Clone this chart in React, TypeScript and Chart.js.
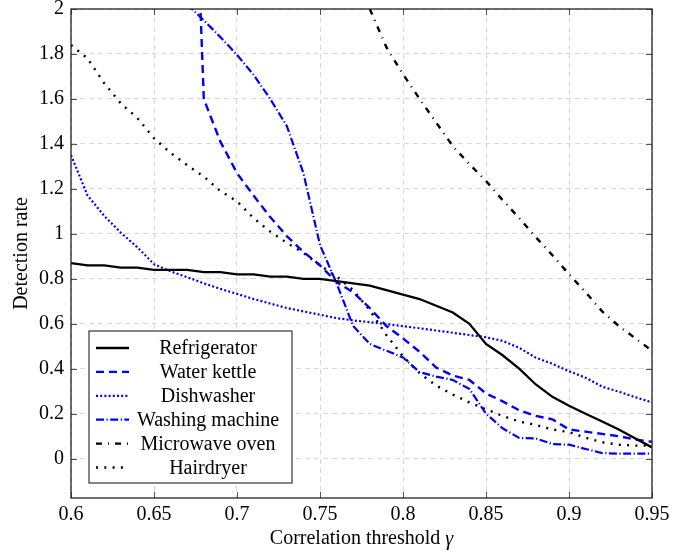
import React, { useEffect, useRef } from "react";
import { Chart, registerables } from "chart.js";

Chart.register(...registerables);

// ---------- data ----------
const thresholds = [
  0.6, 0.61, 0.62, 0.63, 0.64, 0.65, 0.66, 0.67, 0.68, 0.69, 0.7, 0.71, 0.72,
  0.73, 0.74, 0.75, 0.76, 0.77, 0.78, 0.79, 0.8, 0.81, 0.82, 0.83, 0.84, 0.85,
  0.86, 0.87, 0.88, 0.89, 0.9, 0.91, 0.92, 0.93, 0.94, 0.95,
];

const refrigerator = [
  0.87, 0.86, 0.86, 0.85, 0.85, 0.84, 0.84, 0.84, 0.83, 0.83, 0.82, 0.82, 0.81,
  0.81, 0.8, 0.8, 0.79, 0.78, 0.77, 0.75, 0.73, 0.71, 0.68, 0.65, 0.6, 0.51,
  0.46, 0.4, 0.33, 0.275, 0.235, 0.2, 0.165, 0.13, 0.09, 0.05,
];

const waterKettle = [
  null, null, null, null, null, null, null, 3.6, 1.6, 1.41, 1.27, 1.17, 1.075,
  0.99, 0.92, 0.86, 0.785, 0.74, 0.67, 0.59, 0.535, 0.475, 0.405, 0.37, 0.35,
  0.29, 0.255, 0.215, 0.19, 0.175, 0.13, 0.12, 0.11, 0.1, 0.085, 0.075,
];

const dishwasher = [
  1.35, 1.17, 1.08, 1.005, 0.94, 0.865, 0.833, 0.807, 0.78, 0.755, 0.733, 0.71,
  0.69, 0.67, 0.655, 0.64, 0.625, 0.615, 0.607, 0.598, 0.589, 0.58, 0.57, 0.56,
  0.55, 0.54, 0.524, 0.493, 0.449, 0.422, 0.389, 0.36, 0.32, 0.298, 0.273, 0.25,
];

const washingMachine = [
  null, null, null, null, null, null, null, 2.02, 1.95, 1.875, 1.796, 1.707,
  1.6, 1.48, 1.27, 0.95, 0.78, 0.59, 0.51, 0.48, 0.45, 0.385, 0.365, 0.35, 0.31,
  0.2, 0.135, 0.092, 0.09, 0.065, 0.062, 0.043, 0.025, 0.022, 0.022, 0.022,
];

const microwaveOven = [
  null, null, null, null, null, null, null, null, null, null, null, null, null,
  null, null, null, null, null, 2.0, 1.83, 1.71, 1.6, 1.495, 1.39, 1.31, 1.235,
  1.15, 1.07, 0.985, 0.905, 0.82, 0.74, 0.655, 0.59, 0.535, 0.48,
];

const hairdryer = [
  1.84, 1.78, 1.67, 1.58, 1.515, 1.425, 1.36, 1.305, 1.255, 1.19, 1.145, 1.07,
  1.01, 0.96, 0.915, 0.86, 0.81, 0.75, 0.66, 0.55, 0.455, 0.38, 0.325, 0.285,
  0.25, 0.22, 0.19, 0.165, 0.15, 0.13, 0.118, 0.093, 0.073, 0.062, 0.058, 0.058,
];

const xTickValues = [0.6, 0.65, 0.7, 0.75, 0.8, 0.85, 0.9, 0.95];
const yTickValues = [0, 0.2, 0.4, 0.6, 0.8, 1, 1.2, 1.4, 1.6, 1.8, 2];

const xLabel = "Correlation threshold ";
const xLabelSymbol = "γ";
const yLabel = "Detection rate";

// ---------- styles ----------
const FONT = "'Liberation Serif', 'DejaVu Serif', serif";
const FS = 20;
const BLUE = "#0000ff";
const BLACK = "#000000";

type SeriesDef = {
  label: string;
  values: (number | null)[];
  color: string;
  dash: number[];
  width: number;
  cap: CanvasLineCap;
};

const series: SeriesDef[] = [
  { label: "Refrigerator", values: refrigerator, color: BLACK, dash: [], width: 2.3, cap: "butt" },
  { label: "Water kettle", values: waterKettle, color: BLUE, dash: [8, 5], width: 2.4, cap: "butt" },
  { label: "Dishwasher", values: dishwasher, color: BLUE, dash: [2, 2.2], width: 2.2, cap: "butt" },
  { label: "Washing machine", values: washingMachine, color: BLUE, dash: [8, 2.5, 1.2, 2.5], width: 2.2, cap: "butt" },
  { label: "Microwave oven", values: microwaveOven, color: BLACK, dash: [6, 6, 1, 6], width: 2.4, cap: "butt" },
  { label: "Hairdryer", values: hairdryer, color: BLACK, dash: [2, 6.3], width: 2.4, cap: "butt" },
];

const framePlugin = {
  id: "pgfFrame",
  afterDatasetsDraw(chart: any) {
    const { ctx, chartArea: a, scales } = chart;
    ctx.save();
    ctx.strokeStyle = "#555";
    ctx.lineWidth = 1;
    const tl = 6;
    xTickValues.forEach((v) => {
      const px = Math.round(scales.x.getPixelForValue(v)) + 0.5;
      ctx.beginPath();
      ctx.moveTo(px, a.bottom);
      ctx.lineTo(px, a.bottom - tl);
      ctx.moveTo(px, a.top);
      ctx.lineTo(px, a.top + tl);
      ctx.stroke();
    });
    yTickValues.forEach((v) => {
      const py = Math.round(scales.y.getPixelForValue(v)) + 0.5;
      ctx.beginPath();
      ctx.moveTo(a.left, py);
      ctx.lineTo(a.left + tl, py);
      ctx.moveTo(a.right, py);
      ctx.lineTo(a.right - tl, py);
      ctx.stroke();
    });
    ctx.strokeStyle = "#222";
    ctx.lineWidth = 1.3;
    ctx.strokeRect(a.left, a.top, a.right - a.left, a.bottom - a.top);
    ctx.restore();
  },
  afterDraw(chart: any) {
    const { ctx, chartArea: a } = chart;
    ctx.save();
    const bx = a.left + 18;
    const by = a.top + 322;
    const bw = 203;
    const bh = 152;
    ctx.fillStyle = "#fff";
    ctx.fillRect(bx, by, bw, bh);
    ctx.strokeStyle = "#444";
    ctx.lineWidth = 1.3;
    ctx.strokeRect(bx, by, bw, bh);
    const rowH = 23.9;
    const firstY = by + 17;
    ctx.font = `${FS}px ${FONT}`;
    ctx.textAlign = "center";
    ctx.textBaseline = "middle";
    series.forEach((s, i) => {
      const y = firstY + i * rowH;
      ctx.save();
      ctx.strokeStyle = s.color;
      ctx.lineWidth = s.width;
      ctx.setLineDash(s.dash);
      ctx.lineCap = s.cap;
      ctx.beginPath();
      ctx.moveTo(bx + 7, y);
      ctx.lineTo(bx + 40, y);
      ctx.stroke();
      ctx.restore();
      ctx.fillStyle = "#000";
      ctx.fillText(s.label, bx + 119, y + 1);
    });
    ctx.fillStyle = "#000";
    ctx.textBaseline = "middle";
    const cx = (a.left + a.right) / 2;
    ctx.font = `${FS}px ${FONT}`;
    const w1 = ctx.measureText(xLabel).width;
    ctx.font = `italic ${FS}px ${FONT}`;
    const w2 = ctx.measureText(xLabelSymbol).width;
    const start = cx - (w1 + w2) / 2;
    ctx.textAlign = "left";
    ctx.font = `${FS}px ${FONT}`;
    ctx.fillText(xLabel, start, 539);
    ctx.font = `italic ${FS}px ${FONT}`;
    ctx.fillText(xLabelSymbol, start + w1, 540);
    ctx.save();
    ctx.translate(22, (a.top + a.bottom) / 2);
    ctx.rotate(-Math.PI / 2);
    ctx.textAlign = "center";
    ctx.font = `${FS}px ${FONT}`;
    ctx.fillText(yLabel, 0, 0);
    ctx.restore();
    ctx.restore();
  },
};

export default function App() {
  const ref = useRef<HTMLCanvasElement | null>(null);

  useEffect(() => {
    document.body.style.margin = "0";
    const canvas = ref.current!;
    const chart = new Chart(canvas, {
      type: "line",
      data: {
        datasets: series.map((s) => ({
          label: s.label,
          data: thresholds.map((x, i) => ({ x, y: s.values[i] as any })),
          borderColor: s.color,
          backgroundColor: s.color,
          borderWidth: s.width,
          borderDash: s.dash,
          borderCapStyle: s.cap,
          pointRadius: 0,
          tension: 0,
          fill: false,
          spanGaps: false,
        })),
      },
      options: {
        responsive: false,
        animation: false,
        layout: { padding: { top: 9, right: 34, left: 0, bottom: 0 } },
        plugins: { legend: { display: false }, tooltip: { enabled: false } },
        scales: {
          x: {
            type: "linear",
            min: 0.6,
            max: 0.95,
            afterBuildTicks: (scale: any) => {
              scale.ticks = xTickValues.map((v) => ({ value: v }));
            },
            afterFit: (scale: any) => {
              scale.height = 54;
              scale.paddingLeft = 0;
              scale.paddingRight = 0;
            },
            grid: { color: "#d8d8d8", lineWidth: 1, drawTicks: false },
            border: { display: false, dash: [5, 4] },
            ticks: {
              color: "#000",
              font: { family: FONT, size: FS },
              padding: 5,
              maxRotation: 0,
              autoSkip: false,
              callback: (v: any) => String(Number(Number(v).toFixed(2))),
            },
          },
          y: {
            type: "linear",
            min: -0.175,
            max: 2,
            afterBuildTicks: (scale: any) => {
              scale.ticks = yTickValues.map((v) => ({ value: v }));
            },
            afterFit: (scale: any) => {
              scale.width = 71;
              scale.paddingTop = 0;
              scale.paddingBottom = 0;
            },
            grid: { color: "#d8d8d8", lineWidth: 1, drawTicks: false },
            border: { display: false, dash: [5, 4] },
            ticks: {
              color: "#000",
              font: { family: FONT, size: FS },
              padding: 7,
              autoSkip: false,
              callback: (v: any) => String(Number(Number(v).toFixed(2))),
            },
          },
        },
      },
      plugins: [framePlugin],
    });
    return () => chart.destroy();
  }, []);

  return (
    <div style={{ position: "absolute", left: 0, top: 0, width: 686, height: 552, background: "#fff" }}>
      <canvas ref={ref} width={686} height={552} style={{ width: 686, height: 552, display: "block" }} />
    </div>
  );
}
